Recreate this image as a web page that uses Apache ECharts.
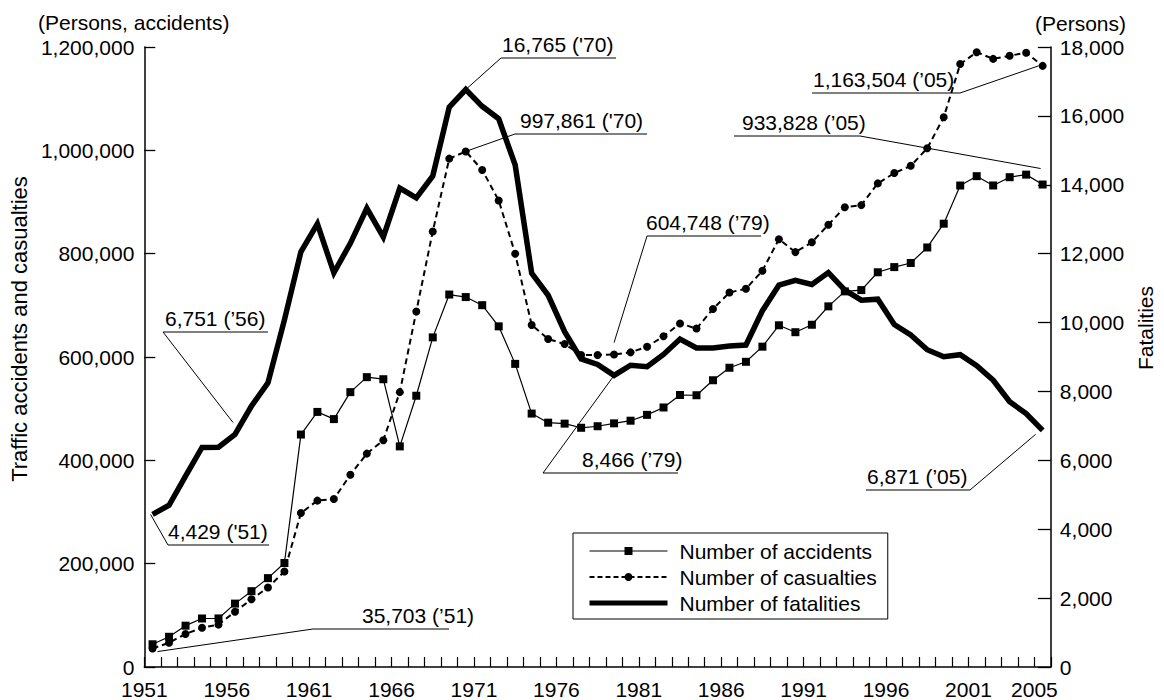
<!DOCTYPE html>
<html><head><meta charset="utf-8">
<script src="https://cdn.jsdelivr.net/npm/echarts@6/dist/echarts.min.js"></script>
<style>html,body{margin:0;padding:0;background:#fff}#c{width:1164px;height:700px}</style>
</head><body><div id="c"></div>
<script>
const years = ['1951','1952','1953','1954','1955','1956','1957','1958','1959','1960',
  '1961','1962','1963','1964','1965','1966','1967','1968','1969','1970',
  '1971','1972','1973','1974','1975','1976','1977','1978','1979','1980',
  '1981','1982','1983','1984','1985','1986','1987','1988','1989','1990',
  '1991','1992','1993','1994','1995','1996','1997','1998','1999','2000',
  '2001','2002','2003','2004','2005'];

const accidents = [44000,58500,80000,93900,94000,122700,146800,172000,201300,449900,
  493700,479800,532000,561000,557000,427000,525000,638000,720900,716000,
  700300,659300,586700,490500,472900,471000,463000,466000,471600,476700,
  488000,502300,526400,526000,555000,579200,590700,620000,661400,648000,
  662400,698000,727000,729500,764000,774000,782000,812000,858000,931900,
  950000,932000,948000,953000,933828];

const casualties = [35703,47000,64000,76000,82000,107000,131000,154000,185000,298000,
  322000,325000,372000,413000,439000,532000,688000,843000,984000,997861,
  962000,903000,800000,662000,635000,625000,604000,604000,604748,609000,
  620000,640000,665000,655000,693000,725000,732000,767000,828000,803000,
  822000,856000,890000,894000,936000,956000,970000,1004000,1064000,1167000,
  1190000,1177000,1183000,1189000,1163504];

const fatalities = [4429,4696,5544,6374,6379,6751,7575,8248,10079,12055,
  12865,11445,12301,13318,12484,13904,13618,14256,16257,16765,
  16278,15918,14574,11432,10792,9734,8945,8783,8466,8760,
  8719,9073,9520,9262,9261,9317,9347,10344,11086,11227,
  11105,11451,10942,10649,10679,9942,9640,9211,9006,9066,
  8747,8326,7702,7358,6871];

const xLabelYears = [1951,1956,1961,1966,1971,1976,1981,1986,1991,1996,2001,2005];
const seriesNames = ['Number of accidents','Number of casualties','Number of fatalities'];
const leftAxisName = 'Traffic accidents and casualties';
const rightAxisName = 'Fatalities';
const leftUnit = '(Persons, accidents)';
const rightUnit = '(Persons)';

const FONT = 'Liberation Sans, Arial, Helvetica, sans-serif';
const FS = 21;
const fmt = v => Number(v).toLocaleString('en-US');

const chart = echarts.init(document.getElementById('c'), null, {renderer: 'svg'});

const axisLineStyle = {color: '#000', width: 1.5};
const option = {
  animation: false,
  backgroundColor: '#fff',
  textStyle: {fontFamily: FONT, color: '#000'},
  grid: {left: 143, right: 105, top: 47, bottom: 30, containLabel: false},
  legend: {
    orient: 'vertical', left: 573, top: 533,
    itemWidth: 78, itemHeight: 10, itemGap: 4,
    padding: [7, 11, 5, 14],
    borderColor: '#000', borderWidth: 1, backgroundColor: '#fff',
    textStyle: {fontFamily: FONT, fontSize: FS, color: '#000', lineHeight: 22, padding: [0, 0, 0, 7]},
    data: [
      {name: seriesNames[0], lineStyle: {width: 1.2, color: '#000'}},
      {name: seriesNames[1], lineStyle: {width: 2, color: '#000', type: [5, 3]}},
      {name: seriesNames[2], lineStyle: {width: 5, color: '#000'},
       itemStyle: {color: 'rgba(0,0,0,0)', borderWidth: 0, opacity: 0}}
    ]
  },
  xAxis: [
    {type: 'category', data: years, boundaryGap: true, position: 'bottom',
     axisLine: {show: false}, axisTick: {show: false}, axisLabel: {show: false}, splitLine: {show: false}},
    {type: 'value', min: 1951, max: 2006, interval: 1, position: 'bottom',
     axisLine: {show: true, onZero: false, lineStyle: axisLineStyle},
     axisTick: {show: true, inside: true, length: 10, lineStyle: {color: '#000', width: 1.2}},
     axisLabel: {margin: 12, fontFamily: FONT, fontSize: FS, color: '#000',
       formatter: v => xLabelYears.indexOf(v) >= 0 ? String(v) : ''},
     splitLine: {show: false}}
  ],
  yAxis: [
    {type: 'value', min: 0, max: 1200000, interval: 200000, position: 'left',
     name: leftAxisName, nameLocation: 'middle', nameGap: 109,
     nameTextStyle: {fontFamily: FONT, fontSize: 22, color: '#000', padding: [0, 0, 0, 56]},
     axisLine: {show: true, lineStyle: axisLineStyle},
     axisTick: {show: true, inside: true, length: 11, lineStyle: {color: '#000', width: 1.3}},
     axisLabel: {margin: 10, fontFamily: FONT, fontSize: FS, color: '#000', formatter: fmt},
     splitLine: {show: false}},
    {type: 'value', min: 0, max: 18000, interval: 2000, position: 'right',
     name: rightAxisName, nameLocation: 'middle', nameGap: 79,
     nameTextStyle: {fontFamily: FONT, fontSize: FS, color: '#000', padding: [0, 0, 0, 58]},
     axisLine: {show: true, lineStyle: axisLineStyle},
     axisTick: {show: true, inside: true, length: 13, lineStyle: {color: '#000', width: 1.3}},
     axisLabel: {margin: 9, fontFamily: FONT, fontSize: FS, color: '#000', formatter: fmt},
     splitLine: {show: false}}
  ],
  series: [
    {name: seriesNames[0], type: 'line', xAxisIndex: 0, yAxisIndex: 0, data: accidents,
     symbol: 'rect', symbolSize: 8, showAllSymbol: true,
     lineStyle: {color: '#000', width: 1.2}, itemStyle: {color: '#000'}, z: 3},
    {name: seriesNames[1], type: 'line', xAxisIndex: 0, yAxisIndex: 0, data: casualties,
     symbol: 'circle', symbolSize: 8, showAllSymbol: true,
     lineStyle: {color: '#000', width: 2, type: [6, 4]}, itemStyle: {color: '#000'}, z: 3},
    {name: seriesNames[2], type: 'line', xAxisIndex: 0, yAxisIndex: 1, data: fatalities,
     symbol: 'none', lineStyle: {color: '#000', width: 5.5, join: 'miter'}, itemStyle: {color: '#000'}, z: 4}
  ]
};
chart.setOption(option);

// Callout annotations: values come from the data arrays, anchors from the chart's scales.
const seriesData = [accidents, casualties, fatalities];
const notes = [
  {s: 2, year: '1970', q: "'", tx: 502, ux1: 501, ux2: 616, uy: 58,  end: 'left',  dx: 0,  dy: 0},
  {s: 1, year: '1970', q: "'", tx: 520, ux1: 515, ux2: 647, uy: 134, end: 'left',  dx: 0,  dy: 0},
  {s: 1, year: '1979', q: '\u2019', tx: 646, ux1: 647, ux2: 761, uy: 236, end: 'left',  dx: 0,  dy: -12},
  {s: 0, year: '2005', q: '\u2019', tx: 742, ux1: 734, ux2: 860, uy: 136, end: 'right', dx: -2, dy: -16},
  {s: 1, year: '2005', q: '\u2019', tx: 813, ux1: 812, ux2: 960, uy: 93,  end: 'right', dx: -4, dy: 0},
  {s: 2, year: '1956', q: '\u2019', tx: 165, ux1: 163, ux2: 268, uy: 332, end: 'left',  dx: -2, dy: -12},
  {s: 2, year: '1951', q: "'", tx: 168, ux1: 168, ux2: 269, uy: 545, end: 'left',  dx: -2, dy: 0},
  {s: 1, year: '1951', q: '\u2019', tx: 362, ux1: 313, ux2: 449, uy: 629, end: 'left',  dx: 5,  dy: 3},
  {s: 2, year: '1979', q: '\u2019', tx: 582, ux1: 543, ux2: 678, uy: 473, end: 'left',  dx: 0,  dy: 0},
  {s: 2, year: '2005', q: '\u2019', tx: 867, ux1: 866, ux2: 970, uy: 490, end: 'right', dx: -7, dy: 4}
];

const graphics = [];
const textStyleBase = {fontFamily: FONT, fontSize: FS, fill: '#000'};
notes.forEach(n => {
  const idx = years.indexOf(n.year);
  const val = seriesData[n.s][idx];
  const p = chart.convertToPixel({xAxisIndex: 0, yAxisIndex: n.s === 2 ? 1 : 0}, [idx, val]);
  const label = fmt(val) + ' (' + n.q + n.year.slice(2) + ')';
  const ex = n.end === 'left' ? n.ux1 : n.ux2;
  graphics.push({type: 'text', silent: true, z: 10, x: n.tx, y: n.uy - 14,
    style: Object.assign({text: label, align: 'left', verticalAlign: 'middle'}, textStyleBase)});
  graphics.push({type: 'line', silent: true, z: 10,
    shape: {x1: n.ux1, y1: n.uy, x2: n.ux2, y2: n.uy}, style: {stroke: '#000', lineWidth: 1}});
  graphics.push({type: 'line', silent: true, z: 10,
    shape: {x1: ex, y1: n.uy, x2: p[0] + n.dx, y2: p[1] + n.dy}, style: {stroke: '#000', lineWidth: 1}});
});
graphics.push({type: 'text', silent: true, x: 38, y: 22,
  style: Object.assign({text: leftUnit, align: 'left', verticalAlign: 'middle'}, textStyleBase)});
graphics.push({type: 'text', silent: true, x: 1035, y: 23,
  style: Object.assign({text: rightUnit, align: 'left', verticalAlign: 'middle'}, textStyleBase)});

chart.setOption({graphic: {elements: graphics}});
</script>
</body></html>
